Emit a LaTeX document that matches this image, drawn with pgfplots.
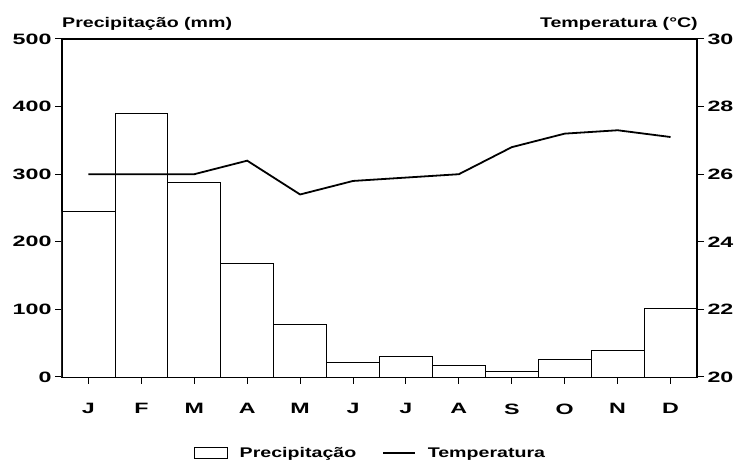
\documentclass[border=0pt]{standalone}
\usepackage{fontspec}
\setmainfont{Liberation Sans}[FakeStretch=1.4, BoldFeatures={FakeStretch=1.4}]
\newfontfamily\tickfont{Liberation Sans}[FakeStretch=1.55, BoldFeatures={FakeStretch=1.55}]
\usepackage{pgfplots}
\pgfplotsset{compat=1.18}

\begin{document}
\begin{tikzpicture}[font=\fontsize{14}{16}\selectfont\bfseries]
\useasboundingbox (-62pt,-91pt) rectangle (680pt,377pt);
\pgfplotsset{
  common/.style={
    at={(0,0)}, anchor=south west, scale only axis,
    width=635pt, height=338pt,
    xmin=-0.5, xmax=11.5,
    tick align=outside, major tick length=7pt,
    axis line style={line width=1.2pt},
    every tick/.style={line width=1pt, black},
    /pgf/number format/assume math mode=true,
    ticklabel style={font=\tickfont\fontsize{15}{17}\selectfont\bfseries},
  }
}
\begin{axis}[common, clip=false,
  ymin=0, ymax=500, ytick={0,100,...,500},
  xtick={0,...,11},
  xticklabels={J,F,M,A,M,J,J,A,S,O,N,D},
  tick pos=left,
  xticklabel style={yshift=-16pt},
]
\addplot[ybar, bar width=1, draw=black, line width=0.8pt, fill=white] coordinates {
(0,245) (1,390) (2,288) (3,168) (4,78) (5,21) (6,30) (7,17) (8,8) (9,26) (10,39) (11,102)
};
\node[anchor=base west, inner sep=0pt] at (rel axis cs:0,1) [yshift=11pt] {Precipitação (mm)};
\node[anchor=base east, inner sep=0pt] at (rel axis cs:1,1) [yshift=11pt, xshift=1pt] {Temperatura (°C)};
\end{axis}
\begin{axis}[common,
  axis x line=none, axis y line*=right,
  ymin=20, ymax=30, ytick={20,22,...,30},
  legend columns=2,
  legend style={at={(0.5,0)}, anchor=north, yshift=-66pt, xshift=-9pt, draw=none, fill=none,
    font=\fontsize{14}{16}\selectfont\bfseries,
    /tikz/every odd column/.append style={column sep=10pt},
    /tikz/every even column/.append style={column sep=24pt}},
]
\addlegendimage{legend image code/.code={\draw[black, line width=0.8pt, fill=white] (0pt,-5pt) rectangle (33pt,6pt);}}
\addlegendentry{Precipitação}
\addplot[black, line width=1.8pt, mark=none,
  legend image code/.code={\draw[black, line width=1.5pt] (0pt,0pt) -- (32pt,0pt);}] coordinates {
(0,26.0) (1,26.0) (2,26.0) (3,26.4) (4,25.4) (5,25.8) (6,25.9) (7,26.0) (8,26.8) (9,27.2) (10,27.3) (11,27.1)
};
\addlegendentry{Temperatura}
\end{axis}
\end{tikzpicture}
\end{document}
